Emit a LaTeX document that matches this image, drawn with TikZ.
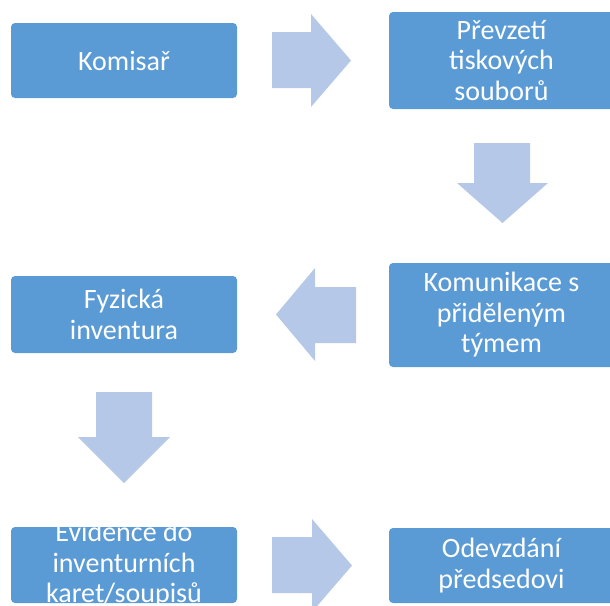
\documentclass[tikz,border=0pt]{standalone}
\usepackage{fontspec}
\setmainfont{Carlito}
\definecolor{boxblue}{RGB}{91,155,213}
\definecolor{arrowblue}{RGB}{181,200,231}
\tikzset{
  stepbox/.style={rectangle, rounded corners=4pt, fill=boxblue, draw=none, inner sep=0pt},
  steptext/.style={text=white, align=center, inner sep=0pt,
    font=\fontsize{28}{30.5}\selectfont},
  blockarrow/.style={fill=arrowblue, draw=none}
}
\begin{document}
\begin{tikzpicture}[x=1pt, y=-1pt]
  \useasboundingbox (0,0) rectangle (610,605);
  \begin{scope}
  \clip (0,0) rectangle (610,605);

  % process boxes
  \node[stepbox, minimum width=226pt, minimum height=75pt] (b1) at (124,60.5) {};
  \node[stepbox, minimum width=225pt, minimum height=97pt] (b2) at (501.5,60.5) {};
  \node[stepbox, minimum width=225pt, minimum height=104pt] (b3) at (501.5,315) {};
  \node[stepbox, minimum width=226pt, minimum height=77pt] (b4) at (124,314.5) {};
  \node[stepbox, minimum width=226pt, minimum height=76pt] (b5) at (124,565) {};
  \node[stepbox, minimum width=225pt, minimum height=75pt] (b6) at (501.5,565.5) {};

  % box labels
  \node[steptext] (t1) at (b1) {Komisař};
  \node[steptext] (t2) at (b2) {Převzetí\\tiskových\\souborů};
  \node[steptext] (t3) at (b3) {Komunikace s\\přiděleným\\týmem};
  \node[steptext] (t4) at (b4) {Fyzická\\inventura};
  \node[steptext] (t5) at (b5) {Evidence do\\inventurních\\karet/soupisů};
  \node[steptext] (t6) at (b6) {Odevzdání\\předsedovi};

  % block arrows between the steps
  \fill[blockarrow] (272,32) -- (311,32) -- (311,14) -- (351,60.5) -- (311,107)
    -- (311,88) -- (272,88) -- cycle;
  \fill[blockarrow] (474,143) -- (530,143) -- (530,183) -- (548,183) -- (502.5,223)
    -- (457,183) -- (474,183) -- cycle;
  \fill[blockarrow] (356,287) -- (315,287) -- (315,268) -- (276,314.5) -- (315,361)
    -- (315,343) -- (356,343) -- cycle;
  \fill[blockarrow] (96,392) -- (152,392) -- (152,437) -- (170,437) -- (124,483)
    -- (78,437) -- (96,437) -- cycle;
  \fill[blockarrow] (272,537) -- (312,537) -- (312,519) -- (352,565.5) -- (312,612)
    -- (312,593) -- (272,593) -- cycle;
  \end{scope}
\end{tikzpicture}
\end{document}
